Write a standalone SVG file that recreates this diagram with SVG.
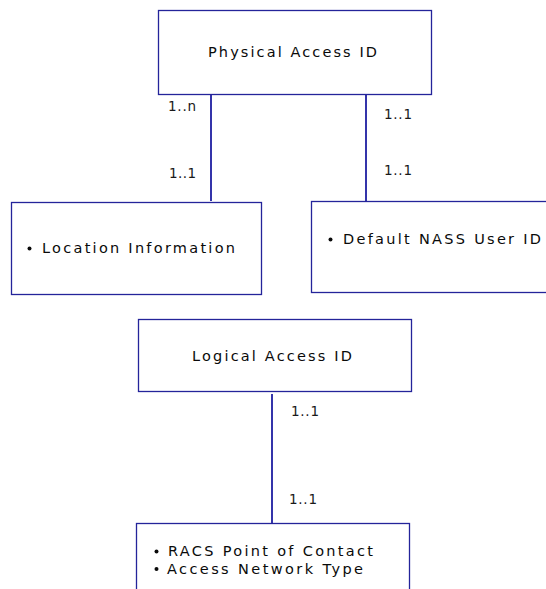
<svg xmlns="http://www.w3.org/2000/svg" width="546" height="589" viewBox="0 0 546 589">
  <style>
    .box { fill: #ffffff; stroke: #24249a; stroke-width: 1.3; }
    .link { stroke: #3434aa; stroke-width: 2; fill: none; }
    .t { font-family: "DejaVu Sans", Verdana, sans-serif; font-size: 14.5px; fill: #0a0a0a; }
    .m { font-family: "DejaVu Sans", Verdana, sans-serif; font-size: 13.5px; fill: #1a1a1a; }
    .b { fill: #0a0a0a; }
  </style>
  <rect width="546" height="589" fill="#ffffff"/>

  <g id="connectors">
    <line class="link" x1="211" y1="95" x2="211" y2="201"/>
    <line class="link" x1="366" y1="95" x2="366" y2="201"/>
    <line class="link" x1="272" y1="394" x2="272" y2="523"/>
    <text class="m" x="168" y="111" textLength="28">1..n</text>
    <text class="m" x="169" y="178" textLength="27">1..1</text>
    <text class="m" x="384" y="119" textLength="28">1..1</text>
    <text class="m" x="384" y="175" textLength="28">1..1</text>
    <text class="m" x="291" y="416" textLength="28">1..1</text>
    <text class="m" x="289" y="504" textLength="28">1..1</text>
  </g>

  <g id="physical-access-id">
    <rect class="box" x="158.5" y="10.5" width="273" height="84"/>
    <text class="t" x="208" y="57" textLength="169">Physical Access ID</text>
  </g>

  <g id="location-information">
    <rect class="box" x="11.5" y="202.5" width="250" height="92"/>
    <circle class="b" cx="29.5" cy="248.5" r="2"/>
    <text class="t" x="42" y="253" textLength="193">Location Information</text>
  </g>

  <g id="default-nass-user-id">
    <rect class="box" x="311.5" y="201.5" width="240" height="91"/>
    <circle class="b" cx="330.5" cy="239.5" r="2"/>
    <text class="t" x="343" y="244" textLength="198">Default NASS User ID</text>
  </g>

  <g id="logical-access-id">
    <rect class="box" x="138.5" y="319.5" width="273" height="72"/>
    <text class="t" x="192" y="361" textLength="160">Logical Access ID</text>
  </g>

  <g id="racs-attributes">
    <rect class="box" x="136.5" y="523.5" width="273" height="80"/>
    <circle class="b" cx="156.5" cy="551.5" r="2"/>
    <text class="t" x="168" y="556" textLength="205">RACS Point of Contact</text>
    <circle class="b" cx="156.5" cy="569" r="2"/>
    <text class="t" x="167" y="574" textLength="196">Access Network Type</text>
  </g>
</svg>
